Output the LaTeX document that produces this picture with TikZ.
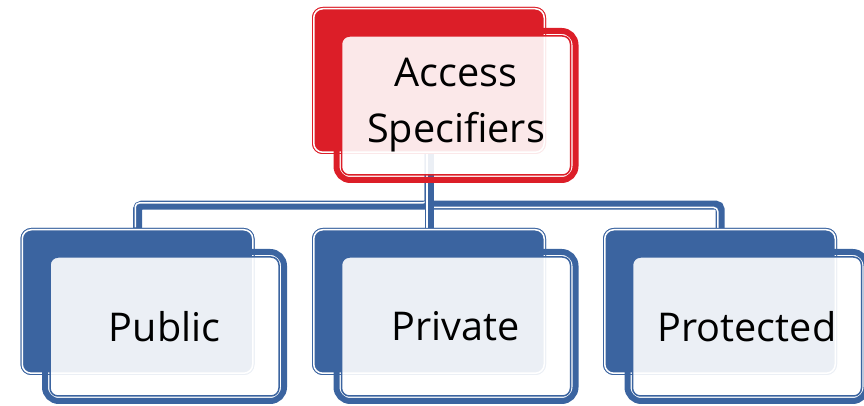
\documentclass[tikz,border=0pt]{standalone}
\usepackage{fontspec}
\setmainfont{Open Sans}
\usetikzlibrary{calc}

\definecolor{specblue}{RGB}{59,100,160}
\definecolor{specred}{RGB}{220,30,40}

\tikzset{
  backbox/.style={rectangle, rounded corners=4.5pt, fill=#1, draw=#1,
    line width=0.5pt, double=white, double distance=0.75pt,
    minimum width=115.25pt, minimum height=71.75pt, inner sep=0pt, outer sep=0pt},
  frontbox/.style={rectangle, rounded corners=4pt, draw=#1, line width=0.75pt,
    fill=white, fill opacity=0.9, text opacity=1,
    minimum width=114.5pt, minimum height=69.5pt, inner sep=0pt, outer sep=0pt,
    align=center, font=\fontsize{19.8}{28}\selectfont},
  frontrim/.style={draw=#1, line width=3pt, rounded corners=6.9pt},
  link/.style={draw=specblue, line width=4.5pt, rounded corners=2pt},
  linkshine/.style={draw=white, line width=0.75pt, rounded corners=2pt},
}

\begin{document}
\begin{tikzpicture}[x=0.5pt, y=0.5pt]
\def\dx{27}
\def\dy{-25}
\def\rim{5}
\useasboundingbox (0,0) rectangle (864,406);
\clip (0,0) rectangle (864,406);

% back boxes
\node[backbox=specred] (topb) at (429,325.5) {};
\foreach \nm/\xx in {pub/137.5, priv/429, prot/720} {
  \node[backbox=specblue] (\nm b) at (\xx,104.5) {};
}

% connectors (drawn under the see-through front boxes)
\draw[link] (topb.south) -- ++(0,-53) -| (pubb.north);
\draw[linkshine, transform canvas={shift={(-2.25,2.25)}}] (topb.south) -- ++(0,-53) -| (pubb.north);
\draw[link] (topb.south) -- ++(0,-53) -| (protb.north);
\draw[linkshine, transform canvas={shift={(-2.25,-2.25)}}] (topb.south) -- ++(0,-53) -| (protb.north);
\draw[link] (topb.south) -- (privb.north);
\draw[linkshine, transform canvas={shift={(-2.25,0)}}] (topb.south) -- (privb.north);

% redraw back boxes over the connector ends
\node[backbox=specred] at (topb) {};
\foreach \nm in {pub, priv, prot} {
  \node[backbox=specblue] at (\nm b) {};
}

% front boxes
\node[frontbox=specred] (topf) at ([shift={(\dx,\dy)}]topb.center) {Access\\Specifiers};
\draw[frontrim=specred] ([shift={(-\rim,-\rim)}]topf.south west) rectangle ([shift={(\rim,\rim)}]topf.north east);

\foreach \nm/\lbl in {pub/Public, priv/Private, prot/Protected} {
  \node[frontbox=specblue] (\nm f) at ([shift={(\dx,\dy)}]\nm b.center) {\lbl};
  \draw[frontrim=specblue] ([shift={(-\rim,-\rim)}]\nm f.south west) rectangle ([shift={(\rim,\rim)}]\nm f.north east);
}
\end{tikzpicture}
\end{document}
